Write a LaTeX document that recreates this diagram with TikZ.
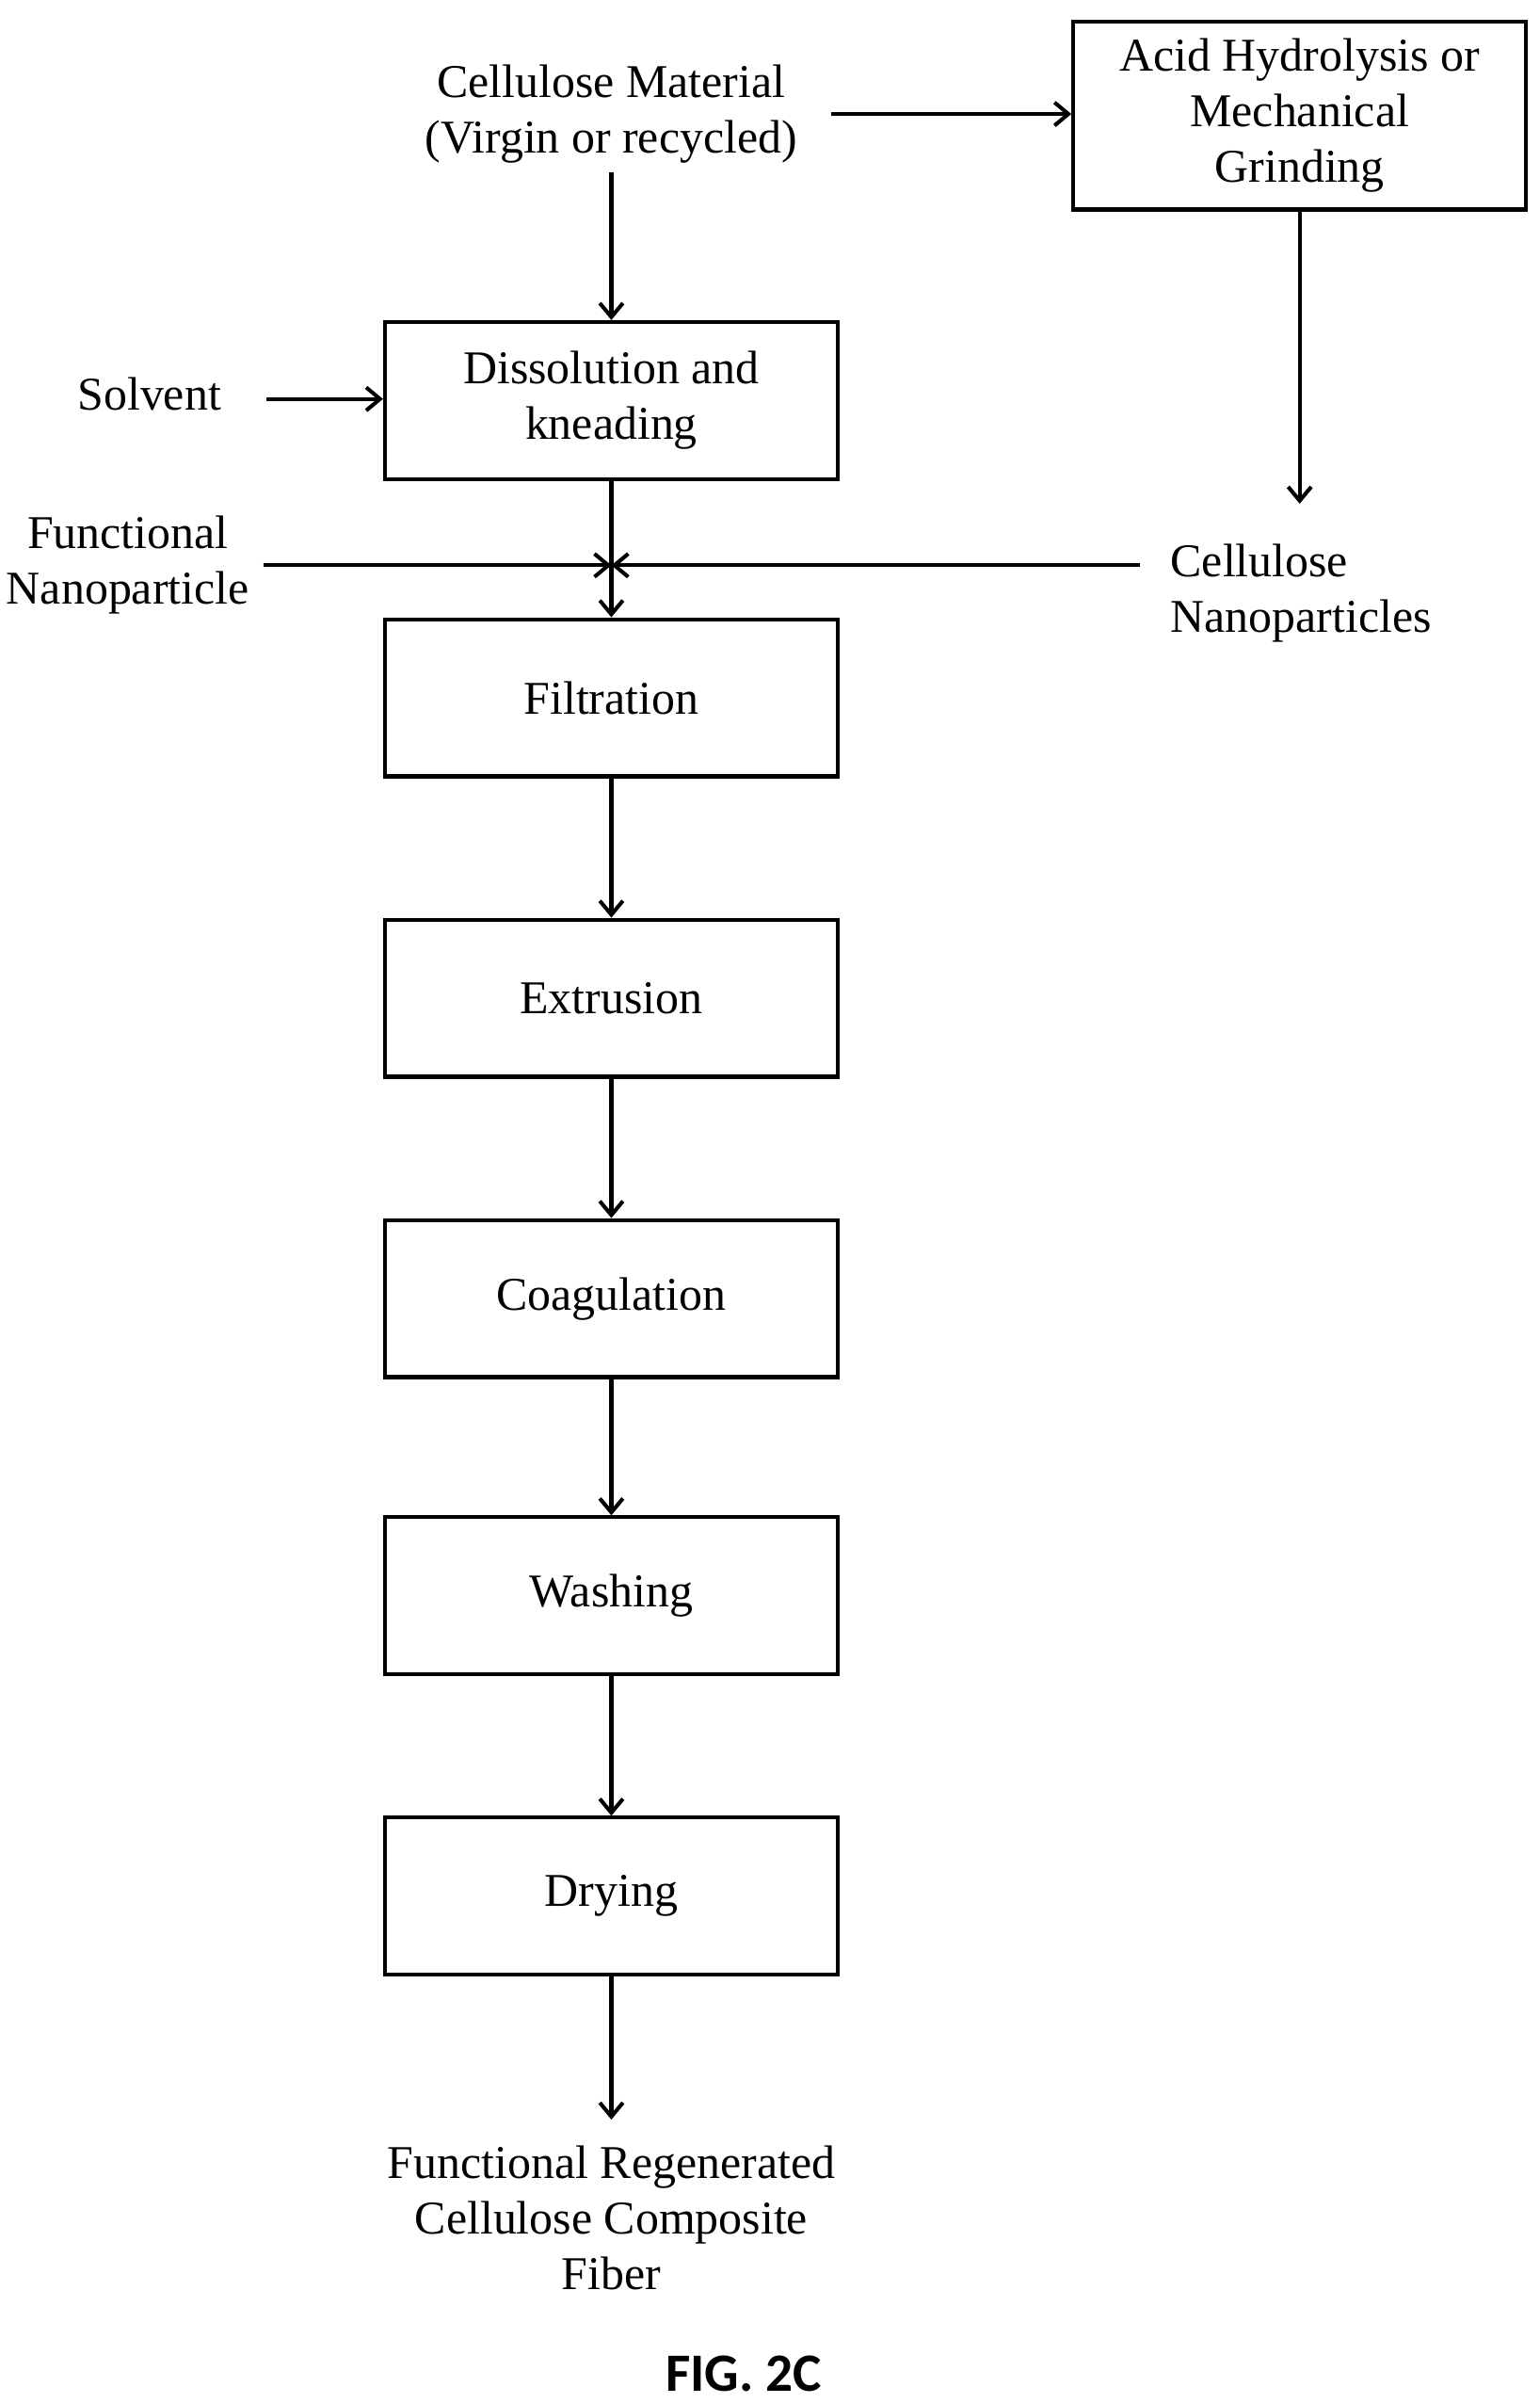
\documentclass[tikz,border=0pt]{standalone}
\usepackage{fontspec}
\setmainfont{Liberation Serif}
\newfontfamily\figfont{Carlito}
\usetikzlibrary{arrows.meta}
\begin{document}
\begin{tikzpicture}[x=1pt,y=-1pt,
  box/.style={draw,line width=2.5pt,minimum width=294pt,minimum height=102pt,align=center,inner sep=0pt,font=\fontsize{30.5}{36}\selectfont},
  txt/.style={align=center,inner sep=0pt,font=\fontsize{30.5}{36}\selectfont},
  arr/.style={line width=2.5pt,-{Straight Barb[length=9pt,width=15pt,line width=2.5pt]}}]
\useasboundingbox (0,0) rectangle (1000,1560);
\node[txt] (cm) at (397,74) {Cellulose Material\\(Virgin or recycled)};
\node[box,minimum width=294pt,minimum height=122pt] (acid) at (844,75) {Acid Hydrolysis or\\Mechanical\\Grinding};
\node[box] (dis) at (397,260) {Dissolution and\\kneading};
\node[txt] (sol) at (97,256) {Solvent};
\node[txt] (fn) at (83,367) {Functional\\Nanoparticle};
\node[txt,align=left,anchor=west] (cn) at (760,385) {Cellulose\\Nanoparticles};
\node[box] (fil) at (397,453) {Filtration};
\node[box] (ext) at (397,648) {Extrusion};
\node[box] (coa) at (397,843) {Coagulation};
\node[box] (was) at (397,1036) {Washing};
\node[box] (dry) at (397,1231) {Drying};
\node[txt] (out) at (397,1440) {Functional Regenerated\\Cellulose Composite\\Fiber};
\node[inner sep=0pt,font=\figfont\bfseries\fontsize{35}{36}\selectfont] (fig) at (483,1541) {FIG. 2C};
\coordinate (cmr) at (540,74);
\coordinate (cmb) at (397,112);
\coordinate (acidend) at (844,327);
\coordinate (mix) at (397,367);
\coordinate (fnr) at (171,367);
\coordinate (cnl) at (740,367);
\coordinate (solr) at (173,259);
\coordinate (outt) at (397,1376);
\draw[arr] (cmr) -- (acid.west |- cmr);
\draw[arr] (acid.south) -- (acidend);
\draw[arr] (cmb) -- (dis.north);
\draw[arr] (solr) -- (dis.west |- solr);
\draw[arr] (dis.south) -- (fil.north);
\draw[arr] (fnr) -- (mix);
\draw[arr] (cnl) -- (mix);
\draw[arr] (fil) -- (ext);
\draw[arr] (ext) -- (coa);
\draw[arr] (coa) -- (was);
\draw[arr] (was) -- (dry);
\draw[arr] (dry.south) -- (outt);
\end{tikzpicture}
\end{document}
